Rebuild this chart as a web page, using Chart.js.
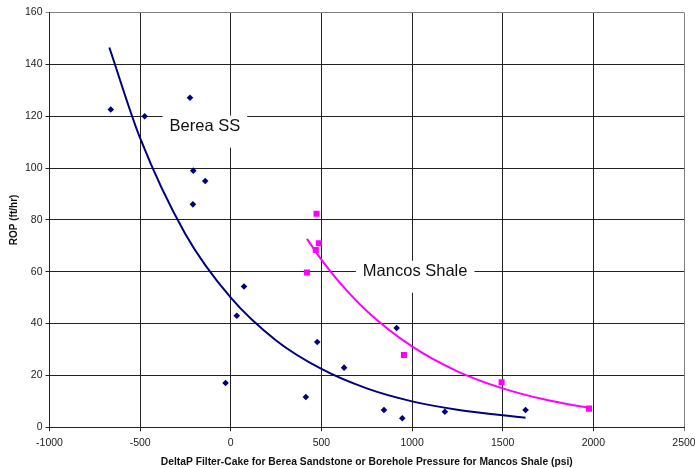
<!DOCTYPE html>
<html>
<head>
<meta charset="utf-8">
<script src="https://cdn.jsdelivr.net/npm/chart.js@4/dist/chart.umd.min.js"></script>
<style>
  html, body { margin: 0; padding: 0; background: #fff; }
  #wrap { width: 695px; height: 468px; }
</style>
</head>
<body>
<div id="wrap"><canvas id="chart"></canvas></div>
<script>
// measured points (psi, ft/hr)
const bereaX = [-662, -475, -225, -207, -141, -209, 73, 33, -29, 477, 414, 625, 915, 845, 946, 1181, 1626];
const bereaY = [122.6, 120, 127.1, 99, 95, 86, 54.3, 43, 17.1, 32.9, 11.7, 23, 38.3, 6.7, 3.5, 6, 6.7];
const mancosX = [473, 486, 469, 420, 955, 1494, 1976];
const mancosY = [82.4, 71, 68.4, 59.7, 27.9, 17.4, 7.2];

// trend curves
const bereaTrendX = [-670, -500, -250, 0, 250, 500, 750, 1000, 1250, 1626];
const bereaTrendY = [146.5, 111.5, 74.5, 50, 33.5, 22.5, 15, 10, 6.8, 3.7];
const mancosTrendX = [420, 500, 600, 750, 1000, 1250, 1500, 1750, 1976];
const mancosTrendY = [72.7, 64.7, 55.9, 44.9, 31.2, 21.6, 15, 10.4, 7.5];

// in-plot labels: text, x, y (data units)
const labelText = ['Berea SS', 'Mancos Shale'];
const labelX = [-143, 1017];
const labelY = [116, 60];

const xTicks = [-1000, -500, 0, 500, 1000, 1500, 2000, 2500];
const yTicks = [0, 20, 40, 60, 80, 100, 120, 140, 160];

const NAVY = '#000080';
const PINK = '#ff00ff';
const FONT = '"Liberation Sans", Arial, sans-serif';

function pts(xs, ys) {
  return xs.map((x, i) => ({ x: x, y: ys[i] }));
}

const labelBoxes = {
  id: 'labelBoxes',
  beforeDatasetsDraw(chart) {
    const ctx = chart.ctx;
    const xs = chart.scales.x, ys = chart.scales.y;
    ctx.save();
    ctx.font = '16.5px ' + FONT;
    ctx.textAlign = 'center';
    ctx.textBaseline = 'middle';
    labelText.forEach((t, i) => {
      const px = xs.getPixelForValue(labelX[i]);
      const py = ys.getPixelForValue(labelY[i]);
      const w = ctx.measureText(t).width + 14;
      ctx.fillStyle = '#fff';
      ctx.fillRect(px - w / 2, py - 11, w, 32);
      ctx.fillStyle = '#111';
      ctx.fillText(t, px, py);
    });
    ctx.restore();
  }
};

function edgeColor(ctx, scale) {
  const v = ctx.tick ? ctx.tick.value : null;
  if (scale === 'x' && v === 2500) return '#808080';
  if (scale === 'y' && v === 160) return '#808080';
  return '#222';
}

new Chart(document.getElementById('chart'), {
  type: 'scatter',
  data: {
    datasets: [
      {
        label: 'Berea SS',
        data: pts(bereaX, bereaY),
        pointStyle: 'rectRot',
        pointRadius: 3.3,
        backgroundColor: NAVY,
        borderColor: NAVY,
        borderWidth: 0
      },
      {
        label: 'Mancos Shale',
        data: pts(mancosX, mancosY),
        pointStyle: 'rect',
        pointRadius: 4.3,
        backgroundColor: PINK,
        borderColor: PINK,
        borderWidth: 0
      },
      {
        label: 'Berea trend',
        type: 'line',
        data: pts(bereaTrendX, bereaTrendY),
        showLine: true,
        borderColor: NAVY,
        borderWidth: 2,
        pointRadius: 0,
        cubicInterpolationMode: 'monotone',
        fill: false
      },
      {
        label: 'Mancos trend',
        type: 'line',
        data: pts(mancosTrendX, mancosTrendY),
        showLine: true,
        borderColor: PINK,
        borderWidth: 2,
        pointRadius: 0,
        cubicInterpolationMode: 'monotone',
        fill: false
      }
    ]
  },
  options: {
    responsive: true,
    maintainAspectRatio: false,
    animation: false,
    events: [],
    layout: { padding: { top: 12.5, right: 11, bottom: 0, left: 0 } },
    plugins: {
      legend: { display: false },
      tooltip: { enabled: false }
    },
    scales: {
      x: {
        type: 'linear',
        min: -1000,
        max: 2500,
        afterBuildTicks: s => { s.ticks = xTicks.map(v => ({ value: v })); },
        afterFit: s => { s.height = 40.7; s.paddingLeft = 0; s.paddingRight = 0; },
        grid: {
          color: c => edgeColor(c, 'x'),
          tickLength: 4,
          lineWidth: 1
        },
        border: { color: '#222', width: 1 },
        ticks: {
          color: '#222',
          padding: 6,
          maxRotation: 0,
          callback: v => String(v),
          font: { family: FONT, size: 10.5 }
        },
        title: {
          display: true,
          text: 'DeltaP Filter-Cake for Berea Sandstone or Borehole Pressure for Mancos Shale (psi)',
          color: '#111',
          padding: { top: 0, bottom: 0 },
          font: { family: FONT, size: 10.3, weight: 'bold' }
        }
      },
      y: {
        type: 'linear',
        min: 0,
        max: 160,
        afterBuildTicks: s => { s.ticks = yTicks.map(v => ({ value: v })); },
        afterFit: s => { s.width = 49.5; s.paddingTop = 0; s.paddingBottom = 0; },
        grid: {
          color: c => edgeColor(c, 'y'),
          tickLength: 4,
          lineWidth: 1
        },
        border: { color: '#222', width: 1 },
        ticks: {
          color: '#222',
          padding: 3,
          callback: v => String(v),
          font: { family: FONT, size: 10.5 }
        },
        title: {
          display: true,
          text: 'ROP (ft/hr)',
          color: '#111',
          padding: { top: 8, bottom: 0 },
          font: { family: FONT, size: 10, weight: 'bold' }
        }
      }
    }
  },
  plugins: [labelBoxes]
});
</script>
</body>
</html>
